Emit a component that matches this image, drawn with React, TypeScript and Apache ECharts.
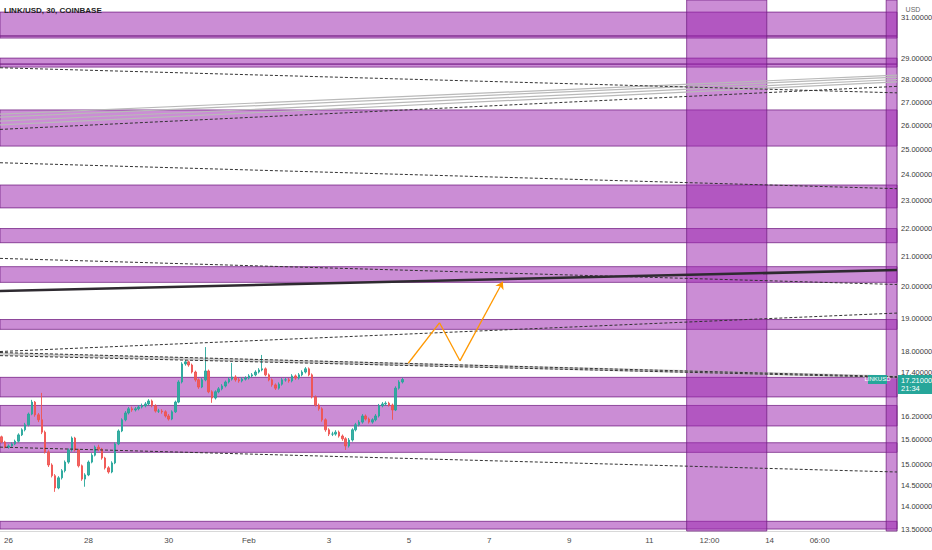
import React, { useEffect, useRef } from "react";
import * as echarts from "echarts";

// ---------- texts ----------
const TITLE = "LINK/USD, 30, COINBASE";
const SYMBOL = "LINKUSD";
const CURRENCY = "USD";
const COUNTDOWN = "21:34";
const LAST_PRICE = 17.21;

// ---------- axes (x in days counted from Jan 1, so Feb 1 = 32) ----------
const DAY_MIN = 25.79;
const DAY_MAX = 48.18;
const PRICE_MIN = 13.457;
const PRICE_MAX = 31.87;

const xTickDays = [26, 28, 30, 32, 34, 36, 38, 40, 42, 43.5, 45, 46.25];
const xTickLabels = ["26", "28", "30", "Feb", "3", "5", "7", "9", "11", "12:00", "14", "06:00"];
const yTickPrices = [31, 29, 28, 27, 26, 25, 24, 23, 22, 21, 20, 19, 18, 17.4, 16.2, 15.6, 15, 14.5, 14, 13.5];

// ---------- candles: 2h bars from Jan 25 20:00, [open, close, low, high] ----------
const CANDLE_START_DAY = 25 + 20 / 24;
const CANDLE_STEP_DAY = 2 / 24;
const candles: [number, number, number, number][] = [
  [15.68, 15.55, 15.52, 15.71], [15.55, 15.42, 15.39, 15.58], [15.42, 15.45, 15.38, 15.49], [15.45, 15.50, 15.43, 15.54],
  [15.50, 15.57, 15.47, 15.61], [15.57, 15.73, 15.54, 15.77], [15.73, 15.86, 15.70, 15.90], [15.86, 15.99, 15.82, 16.04],
  [15.99, 16.27, 15.95, 16.31], [16.27, 16.59, 16.24, 16.65], [16.59, 16.25, 16.20, 16.62], [16.25, 16.12, 16.06, 16.30],
  [16.12, 15.80, 15.75, 16.84], [15.80, 15.30, 15.26, 15.84], [15.30, 14.98, 14.93, 15.34], [14.98, 14.72, 14.68, 15.02],
  [14.72, 14.43, 14.34, 14.76], [14.43, 14.67, 14.40, 14.71], [14.67, 14.84, 14.63, 14.88], [14.84, 15.05, 14.80, 15.09],
  [15.05, 15.35, 15.01, 15.39], [15.35, 15.65, 15.31, 15.69], [15.65, 15.35, 15.31, 15.68], [15.35, 14.96, 14.92, 15.38],
  [14.96, 14.64, 14.60, 14.99], [14.64, 14.74, 14.46, 14.78], [14.74, 15.05, 14.71, 15.09], [15.05, 15.22, 15.02, 15.27],
  [15.22, 15.42, 15.19, 15.46], [15.42, 15.37, 15.32, 15.48], [15.37, 15.15, 15.11, 15.40], [15.15, 14.91, 14.87, 15.18],
  [14.91, 14.81, 14.77, 14.95], [14.81, 15.03, 14.78, 15.07], [15.03, 15.50, 15.00, 15.54], [15.50, 15.83, 15.47, 15.87],
  [15.83, 16.12, 15.80, 16.16], [16.12, 16.30, 16.08, 16.35], [16.30, 16.41, 16.26, 16.46], [16.41, 16.38, 16.33, 16.47],
  [16.38, 16.41, 16.34, 16.46], [16.41, 16.46, 16.37, 16.51], [16.46, 16.49, 16.42, 16.55], [16.49, 16.54, 16.45, 16.59],
  [16.54, 16.62, 16.50, 16.67], [16.62, 16.49, 16.45, 16.66], [16.49, 16.35, 16.31, 16.53], [16.35, 16.35, 16.30, 16.41],
  [16.35, 16.33, 16.28, 16.40], [16.33, 16.22, 16.18, 16.37], [16.22, 16.14, 16.10, 16.27], [16.14, 16.33, 16.11, 16.37],
  [16.33, 16.59, 16.30, 16.63], [16.59, 17.14, 16.56, 17.19], [17.14, 17.65, 17.10, 17.70], [17.65, 17.71, 17.60, 17.76],
  [17.71, 17.62, 17.57, 17.75], [17.62, 17.42, 17.38, 17.66], [17.42, 17.20, 17.15, 17.46], [17.20, 17.00, 16.95, 17.24],
  [17.00, 17.20, 16.97, 17.25], [17.20, 17.45, 17.16, 18.14], [17.45, 16.87, 16.83, 17.49], [16.87, 16.70, 16.57, 16.91],
  [16.70, 16.87, 16.66, 16.91], [16.87, 16.95, 16.83, 17.00], [16.95, 17.03, 16.91, 17.08], [17.03, 17.14, 16.99, 17.18],
  [17.14, 17.22, 17.10, 17.27], [17.22, 17.28, 17.18, 17.68], [17.28, 17.20, 17.15, 17.33], [17.20, 17.17, 17.12, 17.25],
  [17.17, 17.22, 17.13, 17.27], [17.22, 17.25, 17.18, 17.30], [17.25, 17.31, 17.21, 17.36], [17.31, 17.34, 17.27, 17.39],
  [17.34, 17.42, 17.30, 17.47], [17.42, 17.48, 17.38, 17.53], [17.48, 17.51, 17.44, 17.91], [17.51, 17.34, 17.30, 17.55],
  [17.34, 17.20, 17.16, 17.38], [17.20, 17.06, 17.01, 17.24], [17.06, 16.97, 16.92, 17.10], [16.97, 17.08, 16.93, 17.13],
  [17.08, 17.20, 17.04, 17.25], [17.20, 17.20, 17.15, 17.26], [17.20, 17.17, 17.12, 17.25], [17.17, 17.31, 17.13, 17.36],
  [17.31, 17.25, 17.20, 17.35], [17.25, 17.34, 17.21, 17.39], [17.34, 17.42, 17.30, 17.47], [17.42, 17.51, 17.38, 17.56],
  [17.51, 17.34, 17.30, 17.55], [17.34, 16.73, 16.69, 17.38], [16.73, 16.51, 16.47, 16.77], [16.51, 16.41, 16.36, 16.55],
  [16.41, 16.12, 16.07, 16.45], [16.12, 15.86, 15.81, 16.16], [15.86, 15.75, 15.70, 15.90], [15.75, 15.75, 15.70, 15.81],
  [15.75, 15.80, 15.71, 15.85], [15.80, 15.70, 15.66, 15.84], [15.70, 15.63, 15.58, 15.74], [15.63, 15.45, 15.35, 15.67],
  [15.45, 15.60, 15.41, 15.65], [15.60, 15.86, 15.56, 15.90], [15.86, 15.99, 15.82, 16.04], [15.99, 16.06, 15.95, 16.11],
  [16.06, 16.22, 16.02, 16.27], [16.22, 16.14, 16.10, 16.26], [16.14, 16.06, 16.02, 16.18], [16.06, 16.12, 16.02, 16.16],
  [16.12, 16.22, 16.08, 16.27], [16.22, 16.49, 16.18, 16.54], [16.49, 16.54, 16.45, 16.59], [16.54, 16.56, 16.50, 16.61],
  [16.56, 16.51, 16.47, 16.60], [16.51, 16.38, 16.12, 16.55], [16.38, 16.97, 16.35, 17.02], [16.97, 17.14, 16.93, 17.19],
  [17.14, 17.21, 17.10, 17.26],
];

// ---------- drawings ----------
// horizontal zones [top price, bottom price]
const zones: [number, number][] = [
  [31.25, 30.06], [30.06, 29.96], [29.0, 28.72], [28.72, 28.58], [26.66, 25.14], [23.6, 22.74],
  [21.99, 21.49], [20.67, 20.15], [18.97, 18.67], [17.27, 16.73], [16.5, 15.96], [15.53, 15.29], [13.67, 13.5],
];
// vertical session bands [start day, end day]
const sessionBands: [number, number][] = [[42.93, 44.93], [47.91, 48.18]];

type Pt = [number, number]; // [day, price]
const thickTrend: Pt[] = [[25.79, 19.87], [48.18, 20.56]];
const grayFan: Pt[][] = [
  [[25.79, 26.48], [48.18, 28.21]],
  [[25.79, 26.35], [48.18, 28.12]],
  [[25.79, 26.18], [48.18, 28.01]],
  [[25.79, 26.02], [48.18, 27.90]],
];
const grayChannel: Pt[] = [[25.79, 17.94], [48.18, 17.28]];
const dashedTrends: Pt[][] = [
  [[25.79, 28.55], [48.18, 27.41]],
  [[25.79, 25.83], [48.18, 27.70]],
  [[25.79, 24.47], [48.18, 23.46]],
  [[25.79, 20.95], [48.18, 20.08]],
  [[25.79, 18.01], [48.18, 19.17]],
  [[25.79, 17.98], [48.18, 17.29]],
  [[25.79, 17.89], [48.18, 17.27]],
  [[25.79, 15.42], [48.18, 14.81]],
];
const projection: Pt[] = [[35.98, 17.67], [36.76, 18.87], [37.27, 17.74], [38.34, 20.17]];

// ---------- styles ----------
const LABEL_FONT = '"Liberation Sans Narrow", "Liberation Sans", Arial, sans-serif';
const UP = "#26a69a";
const DOWN = "#ef5350";
const ZONE_FILL = "rgba(156,39,176,0.53)";
const ZONE_BORDER = "rgba(112,28,128,0.75)";

const L = (p: number) => Math.log(p);
const toXY = (pts: Pt[]) => pts.map(([d, p]) => [d, L(p)]);

export default function App() {
  const ref = useRef<HTMLDivElement>(null);

  useEffect(() => {
    if (!ref.current) return;
    const chart = echarts.init(ref.current, null, { renderer: "svg" });

    const lineSeries = (pts: Pt[], style: any, z: number) => ({
      type: "line",
      data: toXY(pts),
      symbol: "none",
      silent: true,
      z,
      lineStyle: style,
    });

    const segs: number[][][] = [];
    for (let i = 0; i < projection.length - 1; i++) segs.push(toXY([projection[i], projection[i + 1]]));
    const lastSeg = segs.pop() as number[][];

    const option: any = {
      animation: false,
      backgroundColor: "#ffffff",
      grid: { left: 0, right: 35, top: 0, bottom: 19, containLabel: false, outerBoundsMode: "none" },
      xAxis: {
        type: "value",
        min: DAY_MIN,
        max: DAY_MAX,
        splitLine: { show: false },
        axisTick: { show: false },
        axisLine: { show: true, lineStyle: { color: "#d8d8d8", width: 1 } },
        axisLabel: {
          customValues: xTickDays,
          margin: 5,
          fontSize: 8,
          fontFamily: LABEL_FONT,
          color: "#4a4a4a",
          formatter: (v: number) => {
            const i = xTickDays.findIndex((t) => Math.abs(t - v) < 1e-6);
            return i >= 0 ? xTickLabels[i] : "";
          },
        },
      },
      yAxis: {
        type: "value",
        position: "right",
        min: L(PRICE_MIN),
        max: L(PRICE_MAX),
        splitLine: { show: false },
        axisTick: { show: false },
        axisLine: { show: true, lineStyle: { color: "#d8d8d8", width: 1 } },
        axisLabel: {
          customValues: yTickPrices.map(L),
          margin: 4,
          fontSize: 7.5,
          fontFamily: LABEL_FONT,
          color: "#3a3a3a",
          formatter: (v: number) => Math.exp(v).toFixed(5),
        },
      },
      series: [
        {
          type: "line",
          data: [[30, L(20)]],
          symbol: "none",
          silent: true,
          lineStyle: { opacity: 0 },
          z: 1,
          markArea: {
            silent: true,
            label: { show: false },
            itemStyle: { color: ZONE_FILL, borderColor: ZONE_BORDER, borderWidth: 1 },
            data: [
              ...zones.map(([a, b]) => [{ yAxis: L(a) }, { yAxis: L(b) }]),
              ...sessionBands.map(([a, b]) => [{ xAxis: a }, { xAxis: b }]),
            ],
          },
        },
        lineSeries(grayChannel, { color: "rgba(170,170,170,0.55)", width: 3 }, 3),
        ...grayFan.map((f) => lineSeries(f, { color: "#b9b9b9", width: 1.2 }, 3)),
        {
          type: "candlestick",
          data: candles.map((r, i) => [CANDLE_START_DAY + i * CANDLE_STEP_DAY, L(r[0]), L(r[1]), L(r[2]), L(r[3])]),
          encode: { x: 0, y: [1, 2, 3, 4] },
          barWidth: 2,
          silent: true,
          z: 4,
          itemStyle: { color: UP, color0: DOWN, borderColor: UP, borderColor0: DOWN, borderWidth: 1, opacity: 0.9 },
        },
        ...dashedTrends.map((d) => lineSeries(d, { color: "#333333", width: 1, type: [3, 2] }, 5)),
        lineSeries(thickTrend, { color: "#2e2a30", width: 2.6 }, 6),
        {
          type: "lines",
          coordinateSystem: "cartesian2d",
          silent: true,
          z: 7,
          symbol: "none",
          lineStyle: { color: "#ff9800", width: 1.3, opacity: 1 },
          data: segs.map((c) => ({ coords: c })),
        },
        {
          type: "lines",
          coordinateSystem: "cartesian2d",
          silent: true,
          z: 7,
          symbol: ["none", "arrow"],
          symbolSize: 7,
          lineStyle: { color: "#ff9800", width: 1.3, opacity: 1 },
          data: [{ coords: lastSeg }],
        },
      ],
      graphic: [
        {
          type: "text",
          left: 4,
          top: 6,
          z: 100,
          style: { text: TITLE, fill: "#1e1e1e", font: `bold 8px ${LABEL_FONT}` },
        },
        {
          type: "text",
          x: 913,
          y: 9,
          z: 100,
          style: { text: CURRENCY, fill: "#666", font: `7px ${LABEL_FONT}`, align: "center", verticalAlign: "middle" },
        },
      ],
    };

    chart.setOption(option);

    const py = chart.convertToPixel({ yAxisIndex: 0 }, L(LAST_PRICE)) as number;
    const plotRight = chart.convertToPixel({ xAxisIndex: 0 }, DAY_MAX) as number;
    chart.setOption({
      graphic: [
        ...option.graphic,
        {
          type: "rect",
          z: 100,
          shape: { x: plotRight - 29, y: py - 4.5, width: 19, height: 9 },
          style: { fill: UP },
        },
        {
          type: "text",
          z: 101,
          x: plotRight - 19.5,
          y: py,
          style: { text: SYMBOL, fill: "#fff", font: `6px ${LABEL_FONT}`, align: "center", verticalAlign: "middle" },
        },
        {
          type: "rect",
          z: 100,
          shape: { x: plotRight + 1, y: py - 4.5, width: 36, height: 19 },
          style: { fill: UP },
        },
        {
          type: "text",
          z: 101,
          x: plotRight + 4,
          y: py + 1,
          style: { text: LAST_PRICE.toFixed(5), fill: "#fff", font: `7.5px ${LABEL_FONT}`, verticalAlign: "middle" },
        },
        {
          type: "text",
          z: 101,
          x: plotRight + 4,
          y: py + 9.5,
          style: { text: COUNTDOWN, fill: "#fff", font: `7.5px ${LABEL_FONT}`, verticalAlign: "middle" },
        },
      ],
    });

    return () => chart.dispose();
  }, []);

  return <div ref={ref} style={{ position: "absolute", left: 0, top: 0, width: 932, height: 550 }} />;
}
